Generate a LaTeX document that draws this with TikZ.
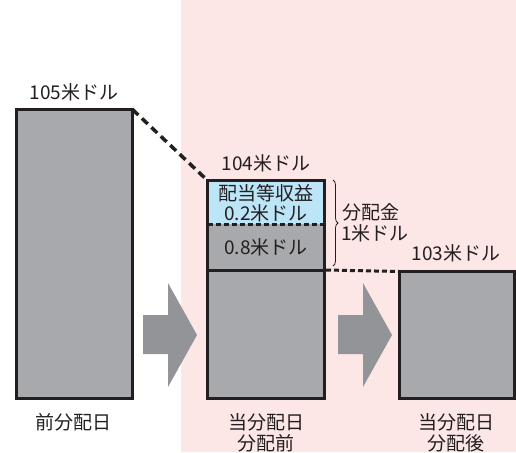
\documentclass[tikz,border=0pt]{standalone}
\usepackage{fontspec}
\newfontfamily\jp{Noto Sans CJK JP}
\usetikzlibrary{decorations.pathreplacing}
\definecolor{pinkbg}{HTML}{FDE6E6}
\definecolor{bargray}{HTML}{A7A9AC}
\definecolor{arrowgray}{HTML}{929497}
\definecolor{lightblue}{HTML}{BDE5F8}
\definecolor{ink}{HTML}{231F20}
\begin{document}
\begin{tikzpicture}[x=1pt,y=-1pt,
  bar/.style={draw=ink, line width=3pt, fill=bargray, inner sep=0pt, outer sep=0pt},
  sect/.style={fill=#1, draw=none, inner sep=0pt, outer sep=0pt, minimum width=117pt},
  frame/.style={draw=ink, line width=3pt, inner sep=0pt, outer sep=0pt},
  lbl/.style={font=\jp\fontsize{19}{21}\selectfont, text=ink, inner sep=0pt},
  bigdash/.style={draw=ink, line width=3.5pt, dash pattern=on 8pt off 5pt},
  smalldash/.style={draw=ink, line width=3pt, dash pattern=on 5pt off 3pt},
  fatarrow/.style={fill=arrowgray, draw=none}]
\useasboundingbox (0,0) rectangle (516,452);
\fill[pinkbg] (181,0) rectangle (516,452);

% left bar
\node[bar, minimum width=116pt, minimum height=289pt] (L) at (74.5,254) {};
% middle bar sections
\node[sect=lightblue, minimum height=43.5pt] (MB) at (266,202.25) {};
\node[sect=bargray, minimum height=46pt] (MU) at (266,247) {};
\node[sect=bargray, minimum height=128.5pt] (ML) at (266,334.25) {};
\node[frame, minimum width=117pt, minimum height=218pt] (M) at (266,289.5) {};
\draw[smalldash] (MB.south west) -- (MB.south east);
\draw[ink, line width=3pt] (ML.north west) -- (ML.north east);
% right bar
\node[bar, minimum width=115pt, minimum height=127pt] (R) at (457,335) {};

% connectors
\draw[bigdash] (L.north east) -- (M.north west);
\draw[smalldash] ([xshift=1.5pt]ML.north east) -- (R.north west);

% arrows
\fill[fatarrow] (143,315) -- (168,315) -- (168,283) -- (197,335) -- (168,387) -- (168,354) -- (143,354) -- cycle;
\fill[fatarrow] (338,315) -- (363,315) -- (363,283) -- (392,335) -- (363,387) -- (363,354) -- (338,354) -- cycle;

% brace
\coordinate (BT) at (333,180);
\coordinate (BB) at (333,266);
\draw[ink, line width=0.8pt, decoration={brace, amplitude=5pt}, decorate] (BT) -- (BB);

% labels
\node[lbl] (t105) at (74,92) {105米ドル};
\node[lbl] (t104) at (266,163) {104米ドル};
\node[lbl] (t103) at (456,253) {103米ドル};
\node[lbl] (tdiv) at (266,193) {配当等収益};
\node[lbl] (t02) at (266,213) {0.2米ドル};
\node[lbl] (t08) at (266,247) {0.8米ドル};
\node[lbl, anchor=west] (tbun) at (342,212) {分配金};
\node[lbl, anchor=west] (t1) at (341,233) {1米ドル};
\node[lbl] (b1) at (73,422) {前分配日};
\node[lbl] (b2a) at (266,422) {当分配日};
\node[lbl] (b2b) at (266,443) {分配前};
\node[lbl] (b3a) at (456,422) {当分配日};
\node[lbl] (b3b) at (456,443) {分配後};
\end{tikzpicture}
\end{document}
